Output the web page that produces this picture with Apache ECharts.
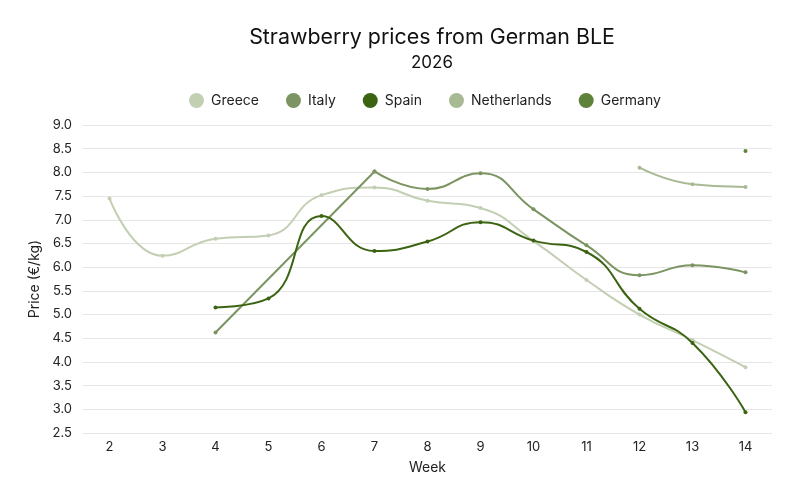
<!DOCTYPE html>
<html>
<head>
<meta charset="utf-8">
<script src="https://cdn.jsdelivr.net/npm/echarts@6/dist/echarts.min.js"></script>
</head>
<body style="margin:0">
<div id="main" style="width:800px;height:500px"></div>
<script>
var weeks = ['2', '3', '4', '5', '6', '7', '8', '9', '10', '11', '12', '13', '14'];
var greece = [7.45, 6.24, 6.6, 6.67, 7.52, 7.68, 7.4, 7.25, 6.55, 5.73, 5.0, 4.46, 3.89];
var italy = [null, null, 4.62, null, null, 8.02, 7.65, 7.98, 7.22, 6.46, 5.83, 6.04, 5.89];
var spain = [null, null, 5.15, 5.34, 7.08, 6.34, 6.54, 6.95, 6.56, 6.32, 5.12, 4.4, 2.94];
var netherlands = [null, null, null, null, null, null, null, null, null, null, 8.1, 7.75, 7.69];
var germany = [null, null, null, null, null, null, null, null, null, null, null, null, 8.45];

var names = ['Greece', 'Italy', 'Spain', 'Netherlands', 'Germany'];
var colors = ['#c3cfb3', '#7b9461', '#3b6412', '#a8ba94', '#5e823a'];
var values = [greece, italy, spain, netherlands, germany];

// the gap in a series is bridged with a straight line, the runs are smoothed
function runs(arr) {
    var gapLine = arr.map(function () { return null; });
    var smoothPart = arr.slice();
    var last = -1;
    for (var i = 0; i < arr.length; i++) {
        if (arr[i] == null) continue;
        if (last >= 0 && i - last > 1) {
            gapLine[last] = arr[last];
            gapLine[i] = arr[i];
            for (var k = 0; k < i; k++) smoothPart[k] = null;
        }
        last = i;
    }
    return { gap: gapLine, smooth: smoothPart };
}

var chart = echarts.init(document.getElementById('main'));
var font = 'Inter, "Noto Sans", sans-serif';

var series = [];
names.forEach(function (n, i) {
    var r = runs(values[i]);
    series.push({
        name: n,
        type: 'line',
        data: r.smooth,
        smooth: true,
        symbol: 'circle',
        symbolSize: 4,
        lineStyle: { width: 2 },
        z: i === 2 ? 5 : 2
    });
    if (r.gap.some(function (v) { return v != null; })) {
        series.push({
            name: n,
            type: 'line',
            data: r.gap,
            connectNulls: true,
            symbol: 'circle',
            symbolSize: 4,
            lineStyle: { width: 2 },
            itemStyle: { color: colors[i] },
            z: 2
        });
    }
});

chart.setOption({
    backgroundColor: '#fff',
    textStyle: { fontFamily: font },
    title: {
        text: 'Strawberry prices from German BLE',
        subtext: '2026',
        left: 427,
        textAlign: 'center',
        top: 22,
        itemGap: 6,
        textStyle: { fontFamily: font, fontSize: 21.4, fontWeight: 'normal', color: '#111' },
        subtextStyle: { fontFamily: font, fontSize: 17, color: '#111' }
    },
    legend: {
        top: 88,
        left: 184,
        icon: 'circle',
        itemWidth: 15,
        itemHeight: 15,
        itemGap: 27,
        textStyle: { fontFamily: font, fontSize: 14, color: '#222', padding: [0, 0, 0, 2] },
        data: names.map(function (n, i) { return { name: n, itemStyle: { color: colors[i] } }; })
    },
    grid: { left: 83, right: 28, top: 125, bottom: 67 },
    xAxis: {
        type: 'category',
        data: weeks,
        name: 'Week',
        nameLocation: 'middle',
        nameGap: 28,
        nameTextStyle: { fontFamily: font, fontSize: 14, color: '#222' },
        axisLine: { show: false },
        axisTick: { show: false },
        axisLabel: { fontFamily: font, fontSize: 13, color: '#222', margin: 8 }
    },
    yAxis: {
        type: 'value',
        min: 2.5,
        max: 9,
        interval: 0.5,
        name: 'Price (€/kg)',
        nameLocation: 'middle',
        nameGap: 40,
        nameTextStyle: { fontFamily: font, fontSize: 14, color: '#222' },
        axisLabel: {
            fontFamily: font, fontSize: 13, color: '#222', margin: 11,
            formatter: function (v) { return v.toFixed(1); }
        },
        splitLine: { lineStyle: { color: '#e6e6e6' } }
    },
    color: colors,
    series: series
});
</script>
</body>
</html>
